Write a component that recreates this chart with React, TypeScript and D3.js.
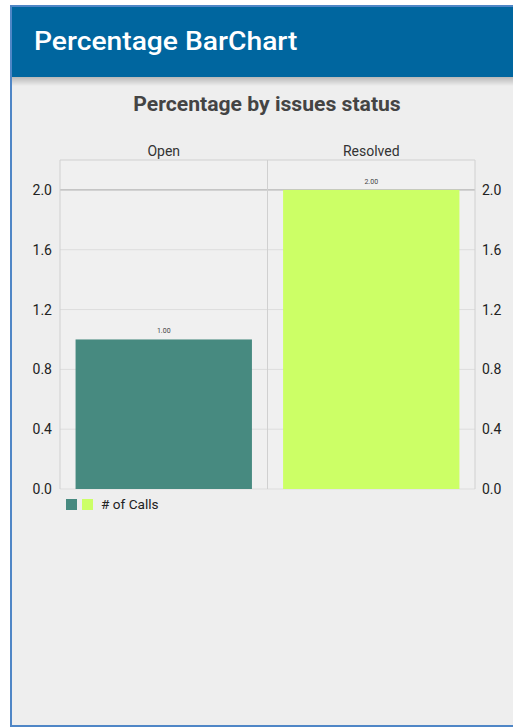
import { useEffect, useRef } from 'react'
import * as d3 from 'd3'

const WIDTH = 513
const HEIGHT = 728

const CATEGORIES = ['Open', 'Resolved']
const CALLS = [1.0, 2.0]
const BAR_COLORS = ['#478a80', '#ccff66']
const Y_TICKS = [0, 0.4, 0.8, 1.2, 1.6, 2.0]
const LEGEND_LABEL = '# of Calls'

const FONT = 'Roboto, "Noto Sans", sans-serif'

export default function App() {
  const svgRef = useRef<SVGSVGElement | null>(null)

  useEffect(() => {
    if (!svgRef.current) {
      return
    }

    const svg = d3.select(svgRef.current)
    svg.selectAll('*').remove()

    const plot = { left: 60, right: 475, top: 160, bottom: 489 }

    const defs = svg.append('defs')
    const shadow = defs
      .append('linearGradient')
      .attr('id', 'header-shadow')
      .attr('x1', 0)
      .attr('y1', 0)
      .attr('x2', 0)
      .attr('y2', 1)
    shadow.append('stop').attr('offset', '0%').attr('stop-color', '#b8b8b8')
    shadow.append('stop').attr('offset', '100%').attr('stop-color', '#eeeeee')

    // page frame
    svg.append('rect').attr('width', WIDTH).attr('height', HEIGHT).attr('fill', '#ffffff')
    svg
      .append('rect')
      .attr('x', 10)
      .attr('y', 5)
      .attr('width', WIDTH - 10)
      .attr('height', 722)
      .attr('fill', '#4f86c6')
    svg
      .append('rect')
      .attr('x', 12)
      .attr('y', 7)
      .attr('width', WIDTH - 12)
      .attr('height', 718)
      .attr('fill', '#eeeeee')

    // app bar
    svg
      .append('rect')
      .attr('x', 12)
      .attr('y', 7)
      .attr('width', WIDTH - 12)
      .attr('height', 70)
      .attr('fill', '#00669f')
    svg
      .append('rect')
      .attr('x', 12)
      .attr('y', 77)
      .attr('width', WIDTH - 12)
      .attr('height', 9)
      .attr('fill', 'url(#header-shadow)')
    // the screenshot's text is a bit wider than Roboto, so stretch horizontally
    svg
      .append('text')
      .attr('transform', 'translate(34, 50) scale(1.13, 1)')
      .attr('font-family', FONT)
      .attr('font-size', 25)
      .attr('font-weight', 500)
      .attr('fill', '#ffffff')
      .text('Percentage BarChart')

    // chart title
    svg
      .append('text')
      .attr('transform', 'translate(267, 111) scale(1.085, 1)')
      .attr('text-anchor', 'middle')
      .attr('font-family', FONT)
      .attr('font-size', 19.5)
      .attr('font-weight', 700)
      .attr('fill', '#444444')
      .text('Percentage by issues status')

    const x = d3
      .scaleBand<string>()
      .domain(CATEGORIES)
      .range([plot.left, plot.right])
      .paddingInner(0.15)
      .paddingOuter(0.075)

    const xCell = d3
      .scaleBand<string>()
      .domain(CATEGORIES)
      .range([plot.left, plot.right])

    const y = d3.scaleLinear().domain([0, 2.2]).range([plot.bottom, plot.top])

    svg
      .append('rect')
      .attr('x', plot.left)
      .attr('y', plot.top)
      .attr('width', plot.right - plot.left)
      .attr('height', plot.bottom - plot.top)
      .attr('fill', '#f0f0f0')

    // horizontal grid
    svg
      .append('g')
      .selectAll('line')
      .data(Y_TICKS)
      .enter()
      .append('line')
      .attr('x1', plot.left)
      .attr('x2', plot.right)
      .attr('y1', (d: number) => y(d))
      .attr('y2', (d: number) => y(d))
      .attr('stroke', (d: number) => (d === 2 ? '#a8a8a8' : '#dddddd'))
      .attr('stroke-width', 1)

    svg
      .append('line')
      .attr('x1', plot.left)
      .attr('x2', plot.right)
      .attr('y1', plot.top)
      .attr('y2', plot.top)
      .attr('stroke', '#d0d0d0')

    // vertical cell separators
    const separators = [plot.left, ...CATEGORIES.map((c) => (xCell(c) ?? 0) + xCell.bandwidth())]
    svg
      .append('g')
      .selectAll('line')
      .data(separators)
      .enter()
      .append('line')
      .attr('x1', (d: number) => d)
      .attr('x2', (d: number) => d)
      .attr('y1', plot.top)
      .attr('y2', plot.bottom)
      .attr('stroke', '#d0d0d0')

    // bars
    svg
      .append('g')
      .selectAll('rect')
      .data(CALLS)
      .enter()
      .append('rect')
      .attr('x', (_: number, i: number) => x(CATEGORIES[i]) ?? 0)
      .attr('y', (d: number) => y(d))
      .attr('width', x.bandwidth())
      .attr('height', (d: number) => plot.bottom - y(d))
      .attr('fill', (_: number, i: number) => BAR_COLORS[i])

    // value labels
    svg
      .append('g')
      .selectAll('text')
      .data(CALLS)
      .enter()
      .append('text')
      .attr('x', (_: number, i: number) => (x(CATEGORIES[i]) ?? 0) + x.bandwidth() / 2)
      .attr('y', (d: number) => y(d) - 6)
      .attr('text-anchor', 'middle')
      .attr('font-family', FONT)
      .attr('font-size', 7)
      .attr('fill', '#444444')
      .text((d: number) => d.toFixed(2))

    // category labels on top
    svg
      .append('g')
      .selectAll('text')
      .data(CATEGORIES)
      .enter()
      .append('text')
      .attr('x', (d: string) => (xCell(d) ?? 0) + xCell.bandwidth() / 2)
      .attr('y', 156)
      .attr('text-anchor', 'middle')
      .attr('font-family', FONT)
      .attr('font-size', 14)
      .attr('fill', '#333333')
      .text((d: string) => d)

    // y tick labels, both sides
    const tickGroup = svg.append('g').attr('font-family', FONT).attr('font-size', 14).attr('fill', '#222222')
    tickGroup
      .selectAll('text.left')
      .data(Y_TICKS)
      .enter()
      .append('text')
      .attr('class', 'left')
      .attr('x', 52)
      .attr('y', (d: number) => y(d) + 5)
      .attr('text-anchor', 'end')
      .text((d: number) => d.toFixed(1))
    tickGroup
      .selectAll('text.right')
      .data(Y_TICKS)
      .enter()
      .append('text')
      .attr('class', 'right')
      .attr('x', 482)
      .attr('y', (d: number) => y(d) + 5)
      .attr('text-anchor', 'start')
      .text((d: number) => d.toFixed(1))

    // legend
    const legend = svg.append('g')
    legend
      .selectAll('rect')
      .data(BAR_COLORS)
      .enter()
      .append('rect')
      .attr('x', (_: string, i: number) => 66 + i * 16)
      .attr('y', 499)
      .attr('width', 11)
      .attr('height', 11)
      .attr('fill', (d: string) => d)
    legend
      .append('text')
      .attr('transform', 'translate(101, 509) scale(1.09, 1)')
      .attr('font-family', FONT)
      .attr('font-size', 12.5)
      .attr('fill', '#222222')
      .text(LEGEND_LABEL)
  }, [])

  return (
    <svg
      ref={svgRef}
      width={WIDTH}
      height={HEIGHT}
      viewBox={`0 0 ${WIDTH} ${HEIGHT}`}
      style={{ position: 'absolute', left: 0, top: 0, display: 'block' }}
    />
  )
}
